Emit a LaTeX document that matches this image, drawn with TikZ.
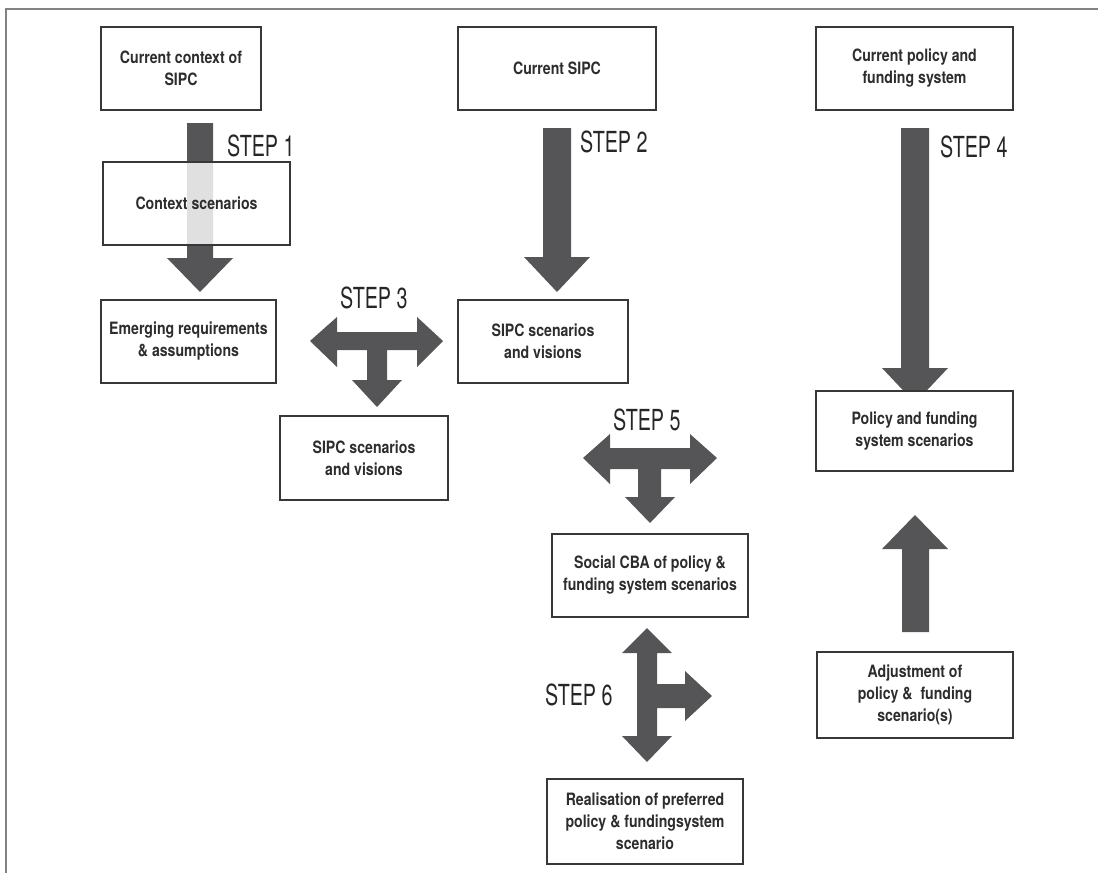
\documentclass[tikz,border=0pt]{standalone}
\usepackage{fontspec}
\newfontfamily\boxfont[FakeStretch=0.83]{TeX Gyre Heros}
\newfontfamily\stepfont[FakeStretch=0.68]{TeX Gyre Heros}
\definecolor{arrowc}{RGB}{85,85,88}
\definecolor{boxc}{RGB}{55,55,55}
\definecolor{textc}{RGB}{45,45,45}
\definecolor{framec}{RGB}{130,130,130}
\begin{document}
\begin{tikzpicture}[x=1pt,y=-1pt,
  box/.style={draw=boxc, line width=2pt, fill=white, text=textc, align=center,
    inner sep=0pt, font=\boxfont\bfseries\fontsize{17}{22}\selectfont},
  steplabel/.style={anchor=base west, inner sep=0pt, text=black!85,
    font=\stepfont\fontsize{29}{29}\selectfont},
  fat/.style={fill=arrowc, draw=none}]
\useasboundingbox (0,0) rectangle (1098,873);
% outer frame
\draw[framec, line width=2pt] (6,873) -- (6,9) -- (1098,9);

% block arrows
% Step 1
\fill[fat] (187,123) -- (213,123) -- (213,258) -- (233,258) -- (200,292) -- (167,258) -- (187,258) -- cycle;
% Step 2
\fill[fat] (543,128) -- (571,128) -- (571,257) -- (590,257) -- (557,292) -- (524,257) -- (543,257) -- cycle;
% Step 4
\fill[fat] (901,128) -- (929,128) -- (929,368) -- (948,368) -- (915,403) -- (882,368) -- (901,368) -- cycle;
% up arrow (adjustment)
\fill[fat] (902,632) -- (929,632) -- (929,549) -- (948,549) -- (915,515) -- (882,549) -- (902,549) -- cycle;
% Step 3 T-arrow
\fill[fat] (310,341) -- (337,317) -- (337,332) -- (417,332) -- (417,317) -- (443,341) -- (417,367) -- (417,350)
  -- (387,350) -- (387,380) -- (402,380) -- (377,407) -- (352,380) -- (367,380) -- (367,350)
  -- (337,350) -- (337,367) -- cycle;
% Step 5 T-arrow
\fill[fat] (583,458) -- (610,434) -- (610,448) -- (690,448) -- (690,434) -- (717,458) -- (690,484) -- (690,469)
  -- (661,469) -- (661,497) -- (675,497) -- (650,523) -- (625,497) -- (638,497) -- (638,469)
  -- (610,469) -- (610,484) -- cycle;
% Step 6 arrow
\fill[fat] (647,628) -- (672,653) -- (657,653) -- (657,684) -- (685,684) -- (685,671) -- (712,696) -- (685,721)
  -- (685,708) -- (657,708) -- (657,736) -- (672,736) -- (647,762) -- (622,736) -- (637,736)
  -- (637,653) -- (622,653) -- cycle;

% boxes
\node[box, minimum width=160pt, minimum height=83pt] (b1) at (181,68.5) {Current context of\\SIPC};
\node[box, minimum width=198pt, minimum height=83pt] (b2) at (557,68.5) {Current SIPC};
\node[box, minimum width=197pt, minimum height=83pt] (b3) at (914.5,68.5) {Current policy and\\funding system};
\node[box, fill opacity=0.82, text opacity=1, minimum width=187pt, minimum height=83pt] (b4) at (196.5,203.5) {Context scenarios};
\node[box, minimum width=175pt, minimum height=83pt] (b5) at (188.5,341.5) {Emerging requirements\\\& assumptions};
\node[box, minimum width=170pt, minimum height=83pt] (b6) at (543,341.5) {SIPC scenarios\\and visions};
\node[box, minimum width=168pt, minimum height=84pt] (b7) at (364,458) {SIPC scenarios\\and visions};
\node[box, minimum width=197pt, minimum height=80pt] (b8) at (914.5,431) {Policy and funding\\system scenarios};
\node[box, minimum width=196pt, minimum height=83pt] (b9) at (650,575.5) {Social CBA of policy \&\\funding system scenarios};
\node[box, minimum width=196pt, minimum height=86pt] (b10) at (915,695) {Adjustment of\\policy \&\ \ funding\\scenario(s)};
\node[box, minimum width=196pt, minimum height=85pt] (b11) at (645,821.5) {Realisation of preferred\\policy \& fundingsystem\\scenario};

% step labels
\node[steplabel] (s1) at (227,156) {STEP 1};
\node[steplabel] (s2) at (580,152) {STEP 2};
\node[steplabel] (s3) at (340,308) {STEP 3};
\node[steplabel] (s4) at (940,157) {STEP 4};
\node[steplabel] (s5) at (613,430) {STEP 5};
\node[steplabel] (s6) at (545,705) {STEP 6};
\end{tikzpicture}
\end{document}
